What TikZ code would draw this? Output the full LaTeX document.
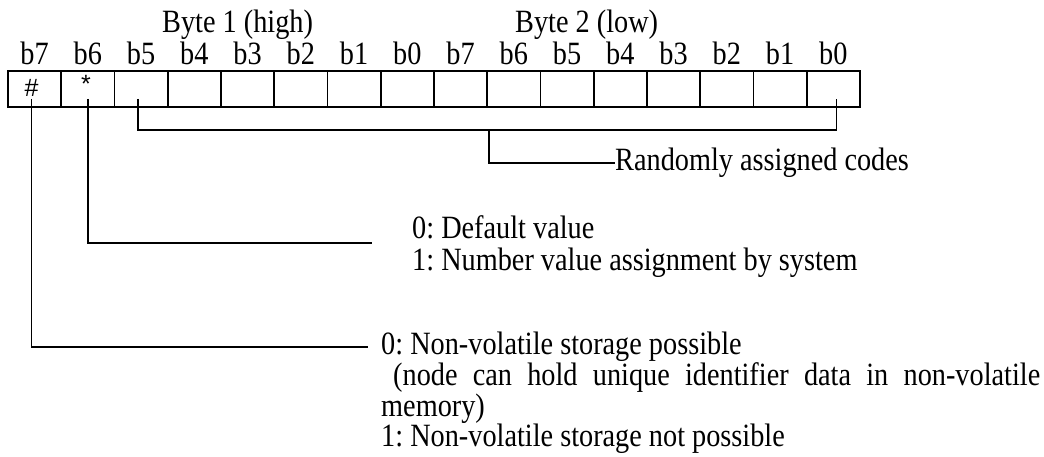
\documentclass[tikz,border=0pt]{standalone}
\usepackage{fontspec}
\setmainfont{Liberation Serif}[FakeStretch=0.87]
\newfontfamily\markfont{Liberation Sans}
\usepackage{tikz}
\usetikzlibrary{calc,positioning}
\frenchspacing
\tikzset{
  cell/.style={
    draw,
    line width=1.7pt,
    minimum width=53.25pt,
    minimum height=36pt,
    inner sep=0pt,
    font=\markfont\fontsize{25pt}{27pt}\selectfont
  },
  bitlbl/.style={
    anchor=base,
    inner sep=0pt,
    font=\fontsize{32.5pt}{34pt}\selectfont
  },
  note/.style={
    inner sep=0pt,
    font=\fontsize{32.5pt}{34pt}\selectfont
  },
  leader/.style={
    line width=1.4pt
  }
}
\def\cellW{53.25}

\begin{document}
\begin{tikzpicture}[x=1pt, y=-1pt]
  % same frame as the reference page
  \useasboundingbox (0,0) rectangle (1044,457);

  % register: byte 1 then byte 2, b7 ... b0
  \foreach \b [count=\i from 0] in {7,6,5,4,3,2,1,0,7,6,5,4,3,2,1,0} {
    \node[cell] (cell\i) at ({8+\cellW*\i+\cellW/2}, 89) {};
    \node[bitlbl] (lbl\i) at ({8+\cellW*\i+\cellW/2}, 65) {b\b};
  }
  \node[cell, draw=none, xshift=-3pt, yshift=1pt] at (cell0) {\#};
  \node[cell, draw=none, xshift=-2pt, yshift=5pt] at (cell1) {*};

  \node[note, anchor=base west] (byteHi) at (162,33) {Byte 1 (high)};
  \node[note, anchor=base west] (byteLo) at (515,33) {Byte 2 (low)};

  % leader ends
  \coordinate (codesBar) at (489,130);
  \coordinate (codesEnd) at (610,163);
  \coordinate (defEnd) at (372,243);
  \coordinate (nvEnd) at (368,347);

  \node[note, right=5pt of codesEnd] (codes) {Randomly assigned codes};

  \node[note, anchor=base west] (def0) at (412,238) {0: Default value};
  \node[note, anchor=base west] (def1) at ([yshift=-32pt]def0.base west)
    {1: Number value assignment by system};

  \node[note, right=13pt of nvEnd] (nv0) {0: Non-volatile storage possible};
  \node[note, anchor=base west] (nv1) at ([yshift=-30.7pt]nv0.base west)
    {\makebox[659pt][s]{\hspace*{12pt}(node can hold unique identifier data in non-volatile}};
  \node[note, anchor=base west] (nv2) at ([yshift=-30.7pt]nv1.base west) {memory)};
  \node[note, anchor=base west] (nv3) at ([yshift=-30.7pt]nv2.base west)
    {1: Non-volatile storage not possible};

  % b5..b0 bracket
  \draw[leader] ([xshift=-3pt,yshift=-10pt]cell2.center) |- (codesBar)
    -| ([xshift=3pt,yshift=-10pt]cell15.center);
  \draw[leader] (codesBar) |- (codes.west);

  % b6 and b7
  \draw[leader] ([yshift=-10pt]cell1.center) |- (defEnd);
  \draw[leader] ([xshift=-3pt,yshift=-10pt]cell0.center) |- (nvEnd);
\end{tikzpicture}
\end{document}
